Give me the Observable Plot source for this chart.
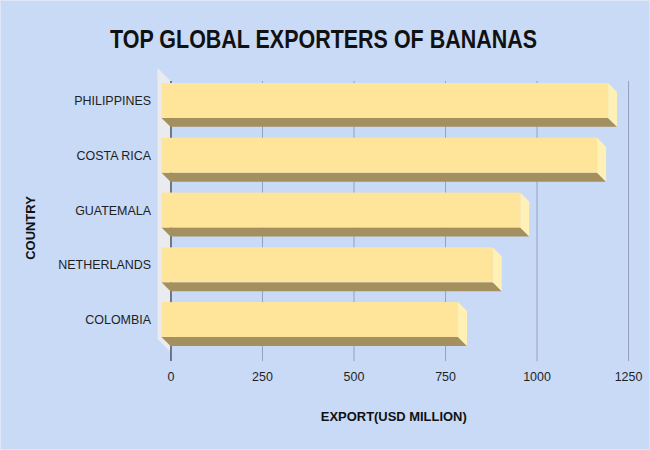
<!DOCTYPE html>
<html>
<head>
<meta charset="utf-8">
<script src="https://cdn.jsdelivr.net/npm/d3@7"></script>
<script src="https://cdn.jsdelivr.net/npm/@observablehq/plot@0.6"></script>
<style>
  html, body { margin: 0; padding: 0; background: #c8daf6; }
  #chart { width: 650px; height: 450px; background: #c8daf6; position: relative; overflow: hidden; box-sizing: border-box; border: 1px solid #dde7f6; }
  #title { height: 60px; position: relative; }
  #title span { position: absolute; left: 0; top: 25px; white-space: nowrap; font-family: "Liberation Sans", Arial, sans-serif; font-weight: bold; font-size: 26px; line-height: 1; color: #111; transform-origin: 0 0; }
  svg { display: block; }
</style>
</head>
<body>
<div id="chart">
  <div id="title"><span id="t">TOP GLOBAL EXPORTERS OF BANANAS</span></div>
</div>
<script>
// Data
const countries = ["PHILIPPINES", "COSTA RICA", "GUATEMALA", "NETHERLANDS", "COLOMBIA"];
const exports_ = [1220, 1190, 980, 905, 810];
const xTicks = [0, 250, 500, 750, 1000, 1250];
const xLabel = "EXPORT(USD MILLION)";
const yLabel = "COUNTRY";

// Layout
const W = 650, H = 389;
const mL = 170, mR = 21, mT = 20, mB = 97;
const xDomain = [0, 1250];
const yDomain = [-0.52, 4.43];
const pxX = (W - mL - mR) / (xDomain[1] - xDomain[0]);
const pxY = (H - mT - mB) / (yDomain[1] - yDomain[0]);
const depth = 9, wallDepth = 13, barHalfPx = 17.5;
const DX = depth / pxX, DY = depth / pxY;
const WX = wallDepth / pxX, WY = wallDepth / pxY;
const h = barHalfPx / pxY;

const bars = countries.map((c, i) => ({country: c, i, v: exports_[i]}));

// faces
const bottomFace = bars.flatMap(d => [
  {country: d.country, y: d.i + h - DY, x1: -DX, x2: d.v - DX},
  {country: d.country, y: d.i + h, x1: 0, x2: d.v}
]);
const sideFace = bars.flatMap(d => [
  {country: d.country, x: d.v - DX, y1: d.i - h - DY, y2: d.i + h - DY},
  {country: d.country, x: d.v, y1: d.i - h, y2: d.i + h}
]);
const wall = [
  {x: -WX, y1: yDomain[0] - WY, y2: yDomain[1] - WY},
  {x: 0, y1: yDomain[0], y2: yDomain[1]}
];

const font = "Liberation Sans, Arial, sans-serif";

const plot = Plot.plot({
  width: W, height: H,
  marginLeft: mL, marginRight: mR, marginTop: mT, marginBottom: mB,
  style: {background: "transparent", fontFamily: font, fontSize: "12.5px", color: "#1f1f1f"},
  x: {domain: xDomain, axis: null},
  y: {domain: yDomain, axis: null, reverse: true},
  marks: [
    Plot.areaY(wall, {x: "x", y1: "y1", y2: "y2", fill: "#e9ebef"}),
    Plot.ruleX(xTicks.filter(t => t !== 0), {stroke: "#93a3bd", strokeWidth: 1, insetBottom: -9}),
    Plot.ruleX([0], {stroke: "#4f5560", strokeWidth: 1.5, insetBottom: -9}),
    Plot.axisX({ticks: xTicks, tickSize: 0, tickPadding: 20, tickFormat: d => String(d), fontSize: 12.5, fill: "#1f1f1f"}),
    Plot.areaX(bottomFace, {y: "y", x1: "x1", x2: "x2", z: "country", fill: "#a48f5f"}),
    Plot.areaY(sideFace, {x: "x", y1: "y1", y2: "y2", z: "country", fill: "#fff0b5"}),
    Plot.rect(bars, {x1: d => -DX, x2: d => d.v - DX, y1: d => d.i - h - DY, y2: d => d.i + h - DY, fill: "#ffe599"}),
    Plot.text(bars, {x: d => -DX, y: d => d.i - DY, text: "country", textAnchor: "end", dx: -11, fontSize: 12.5, fill: "#1f1f1f"}),
    Plot.text([yLabel], {text: d => d, frameAnchor: "left", textAnchor: "middle", lineAnchor: "middle", dx: -141, dy: 11, rotate: -90, fontWeight: "bold", fontSize: 13, fill: "#111"}),
    Plot.text([xLabel], {text: d => d, frameAnchor: "bottom", textAnchor: "middle", lineAnchor: "middle", dx: -6, dy: 64, fontWeight: "bold", fontSize: 13, fill: "#111"})
  ]
});
document.getElementById("chart").appendChild(plot);

// Title: centre and fit width like reference
const t = document.getElementById("t");
const w = t.getBoundingClientRect().width;
const target = 427;
const s = target / w;
t.style.transform = `scaleX(${s})`;
t.style.left = (323 - target / 2 - 1) + "px";
</script>
</body>
</html>
